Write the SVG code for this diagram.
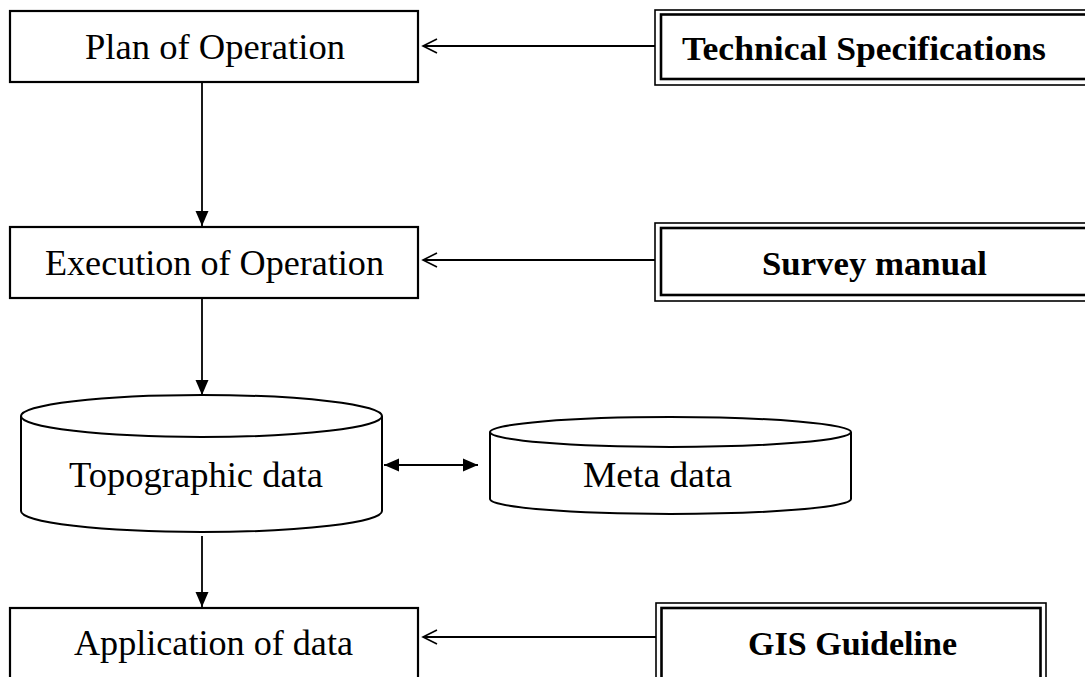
<svg xmlns="http://www.w3.org/2000/svg" width="1085" height="677" viewBox="0 0 1085 677">
<style>
.box{fill:#fff;stroke:#000;stroke-width:2.2}
.outer{fill:none;stroke:#000;stroke-width:1.6}
.inner{fill:none;stroke:#000;stroke-width:2.6}
.cyl{fill:#fff;stroke:#000;stroke-width:2}
.t{font-family:"Liberation Serif","Times New Roman",serif;font-size:35px;fill:#000}
.b{font-family:"Liberation Serif","Times New Roman",serif;font-size:34px;font-weight:bold;fill:#000}
.con{stroke:#000;stroke-width:1.8;fill:none}
</style>
<defs>
<marker id="fill" markerUnits="userSpaceOnUse" markerWidth="16" markerHeight="14" refX="15" refY="6.5" orient="auto-start-reverse" overflow="visible">
<path d="M0,0 L15,6.5 L0,13 z" fill="#000"/>
</marker>
<marker id="open" markerUnits="userSpaceOnUse" markerWidth="16" markerHeight="16" refX="14" refY="7" orient="auto" overflow="visible">
<path d="M0,0 L14,7 L0,14" fill="none" stroke="#000" stroke-width="1.6"/>
</marker>
</defs>
<rect width="1085" height="677" fill="#fff"/>
<g id="plan">
<rect class="box" x="10" y="11" width="408" height="71"/>
<text class="t" x="85" y="59" textLength="260" lengthAdjust="spacingAndGlyphs">Plan of Operation</text>
</g>
<g id="tech">
<rect class="outer" x="655" y="10" width="440" height="75"/>
<rect class="inner" x="661" y="14.5" width="430" height="64.5"/>
<text class="b" x="682" y="60" textLength="364" lengthAdjust="spacingAndGlyphs">Technical Specifications</text>
</g>
<g id="exec">
<rect class="box" x="10" y="227" width="408" height="71"/>
<text class="t" x="45" y="275" textLength="339" lengthAdjust="spacingAndGlyphs">Execution of Operation</text>
</g>
<g id="survey">
<rect class="outer" x="655" y="223" width="440" height="78"/>
<rect class="inner" x="661" y="228" width="430" height="67"/>
<text class="b" x="762" y="275" textLength="225" lengthAdjust="spacingAndGlyphs">Survey manual</text>
</g>
<g id="topo">
<path class="cyl" d="M21,416 L21,511 A180.5,21 0 0 0 382,511 L382,416"/>
<ellipse class="cyl" cx="201.5" cy="416" rx="180.5" ry="21"/>
<text class="t" x="69" y="487" textLength="254" lengthAdjust="spacingAndGlyphs">Topographic data</text>
</g>
<g id="meta">
<path class="cyl" d="M490,432 L490,499 A180.5,15 0 0 0 851,499 L851,432"/>
<ellipse class="cyl" cx="670.5" cy="432" rx="180.5" ry="15"/>
<text class="t" x="583" y="487" textLength="149" lengthAdjust="spacingAndGlyphs">Meta data</text>
</g>
<g id="app">
<rect class="box" x="10" y="608" width="408" height="80"/>
<text class="t" x="74" y="655" textLength="279" lengthAdjust="spacingAndGlyphs">Application of data</text>
</g>
<g id="gis">
<rect class="outer" x="656" y="603" width="390" height="90"/>
<rect class="inner" x="661.5" y="608" width="379" height="80"/>
<text class="b" x="748" y="655" textLength="209" lengthAdjust="spacingAndGlyphs">GIS Guideline</text>
</g>
<g id="connectors">
<line class="con" x1="655" y1="46" x2="423" y2="46" marker-end="url(#open)"/>
<line class="con" x1="655" y1="260" x2="423" y2="260" marker-end="url(#open)"/>
<line class="con" x1="656" y1="637" x2="423" y2="637" marker-end="url(#open)"/>
<line class="con" x1="202" y1="82" x2="202" y2="226" marker-end="url(#fill)"/>
<line class="con" x1="202" y1="298" x2="202" y2="395" marker-end="url(#fill)"/>
<line class="con" x1="202" y1="536" x2="202" y2="607" marker-end="url(#fill)"/>
<line class="con" x1="384" y1="465" x2="478" y2="465" marker-start="url(#fill)" marker-end="url(#fill)"/>
</g>
</svg>
